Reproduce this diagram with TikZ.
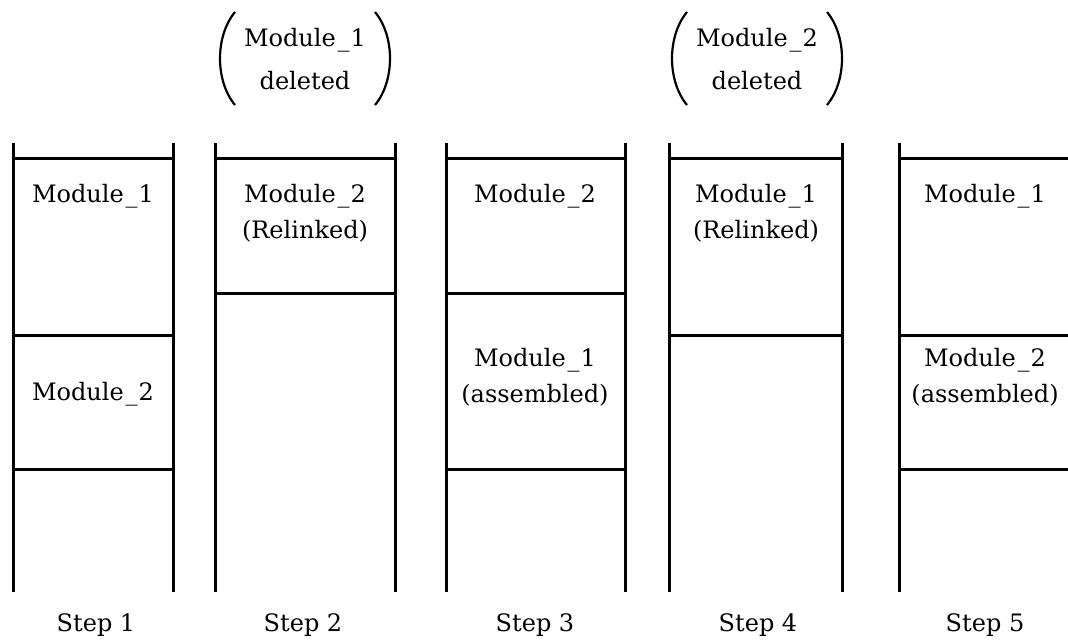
\documentclass[tikz,border=0pt]{standalone}
\usepackage{fontspec}
\setmainfont{DejaVu Serif}
\newcommand{\us}{\kern2pt\_\kern1pt}
\begin{document}
\begin{tikzpicture}[x=1pt,y=-1pt,
  rule/.style={line width=3pt},
  paren/.style={line width=2.2pt},
  lbl/.style={font=\fontsize{24}{28}\selectfont, inner sep=0pt, anchor=base}]
\useasboundingbox (0,0) rectangle (1068,641);
% Column 1
\draw[rule] (13,143) -- (13,592) (173,143) -- (173,592);
\draw[rule] (13,158) -- (173,158) (13,335) -- (173,335) (13,469) -- (173,469);
% Column 2
\draw[rule] (215,143) -- (215,592) (395,143) -- (395,592);
\draw[rule] (215,158) -- (395,158) (215,293) -- (395,293);
% Column 3
\draw[rule] (446,143) -- (446,592) (625,143) -- (625,592);
\draw[rule] (446,158) -- (625,158) (446,293) -- (625,293) (446,469) -- (625,469);
% Column 4
\draw[rule] (669,143) -- (669,592) (842,143) -- (842,592);
\draw[rule] (669,158) -- (842,158) (669,335) -- (842,335);
% Column 5
\draw[rule] (899,143) -- (899,592);
\draw[rule] (899,158) -- (1068,158) (899,335) -- (1068,335) (899,469) -- (1068,469);
% texts
\node[lbl] (a1) at (93,202) {Module\us1};
\node[lbl] (a2) at (93,400) {Module\us2};
\node[lbl] (b1) at (305,202) {Module\us2};
\node[lbl] (b2) at (305,238) {(Relinked)};
\node[lbl] (c1) at (535,202) {Module\us2};
\node[lbl] (c2) at (535,366) {Module\us1};
\node[lbl] (c3) at (535,402) {(assembled)};
\node[lbl] (d1) at (756,202) {Module\us1};
\node[lbl] (d2) at (756,238) {(Relinked)};
\node[lbl] (e1) at (985,202) {Module\us1};
\node[lbl] (e2) at (985,366) {Module\us2};
\node[lbl] (e3) at (985,402) {(assembled)};
% deleted labels
\node[lbl] (x1) at (305,46) {Module\us1};
\node[lbl] (x2) at (305,89) {deleted};
\draw[paren] (235,12) .. controls (215,36) and (215,81) .. (235,105);
\draw[paren] (375,12) .. controls (395,36) and (395,81) .. (375,105);
\node[lbl] (y1) at (757,46) {Module\us2};
\node[lbl] (y2) at (757,89) {deleted};
\draw[paren] (687,12) .. controls (667,36) and (667,81) .. (687,105);
\draw[paren] (827,12) .. controls (847,36) and (847,81) .. (827,105);
% steps
\node[lbl] (s1) at (96,631) {Step 1};
\node[lbl] (s2) at (303,631) {Step 2};
\node[lbl] (s3) at (535,631) {Step 3};
\node[lbl] (s4) at (758,631) {Step 4};
\node[lbl] (s5) at (985,631) {Step 5};
\end{tikzpicture}
\end{document}
